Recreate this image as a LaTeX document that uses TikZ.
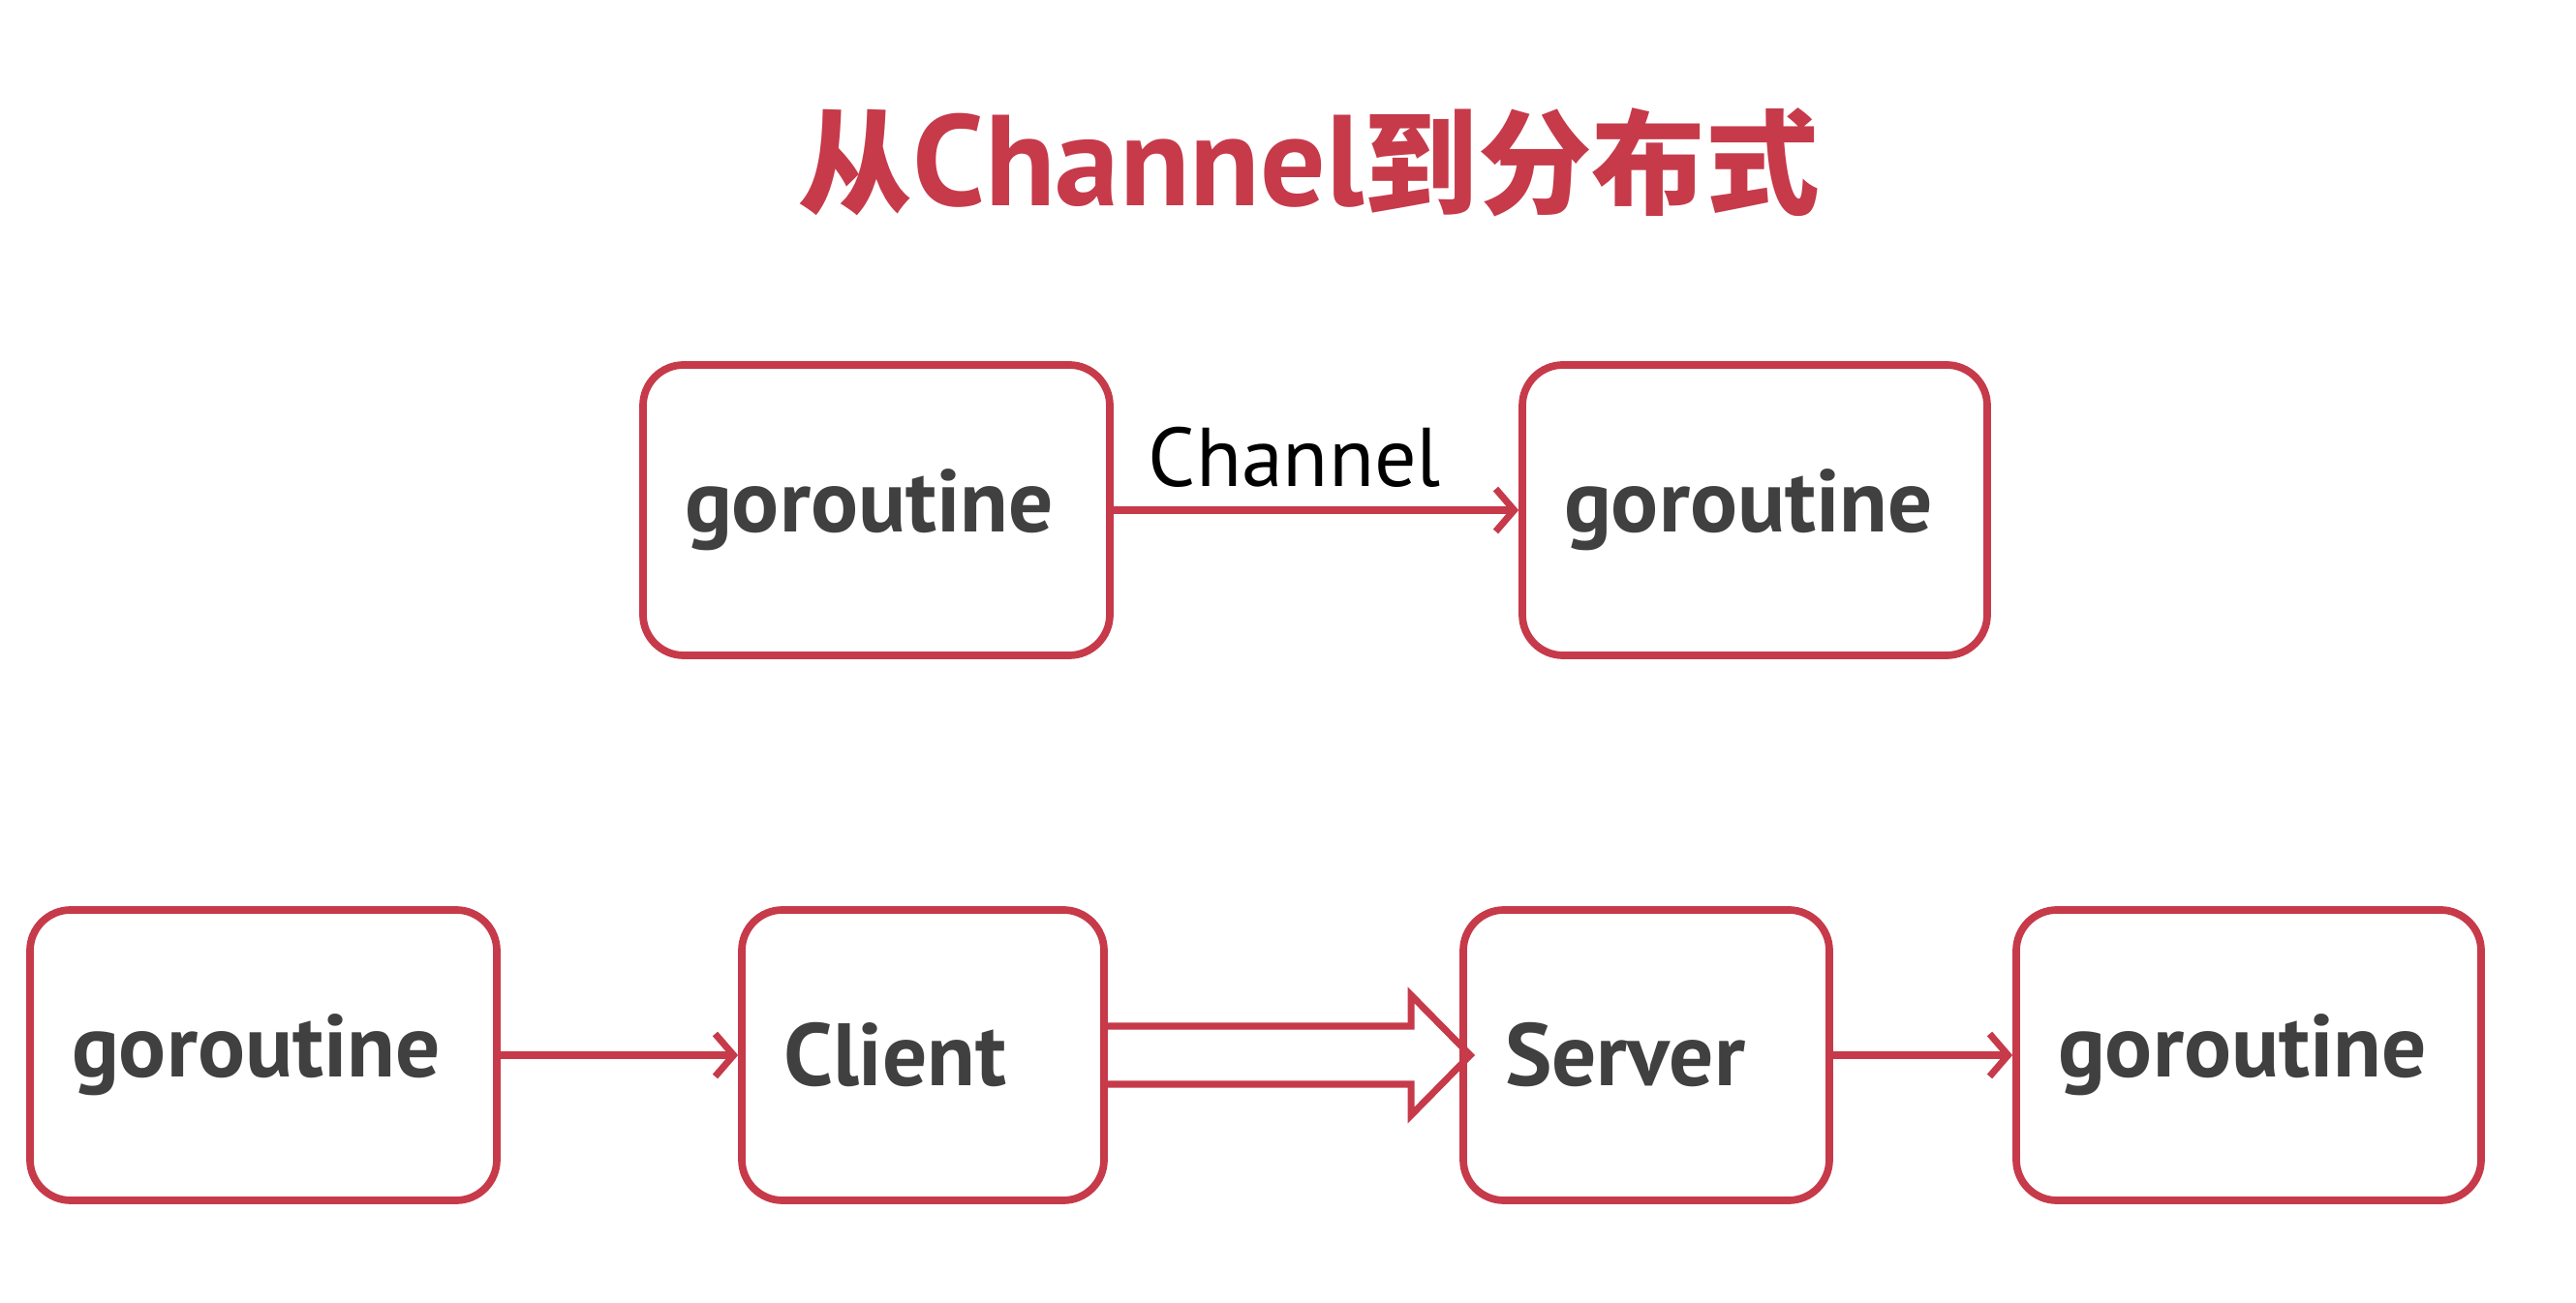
\documentclass[tikz,border=0pt]{standalone}
\usepackage{fontspec}
\setmainfont{PT Sans}
\newfontfamily\cjk[Scale=0.88]{Noto Sans CJK SC}
\usetikzlibrary{arrows.meta,positioning,calc}
\definecolor{gored}{RGB}{198,58,74}
\definecolor{gotext}{RGB}{64,64,64}
\tikzset{
    %Define standard arrow tip
    >={Straight Barb[length=0.19cm,width=0.44cm]},
    %Define style for boxes
    gbox/.style={
           rectangle,
           rounded corners=0.42cm,
           draw=gored, line width=2.2pt,
           inner xsep=0.43cm,
           align=left,
           minimum height=3.0cm,
           text=gotext,
           font=\fontsize{26}{30}\selectfont\bfseries},
    % Define arrow style
    arr/.style={
           ->,
           draw=gored,
           line width=2pt},
    fatarr/.style={
           draw=gored,
           line width=2pt,
           line join=miter}
}
\begin{document}
\begin{tikzpicture}
    \useasboundingbox (0,0) rectangle (26.6,-13.46);
    % TITLE
    \node[text=gored, font=\fontsize{38}{46}\selectfont\bfseries] at (13.52,-1.68) (title) {{\cjk 从}Channel{\cjk 到分布式}};

    % CHANNEL
    \node[gbox, text width=3.96cm] at (9.05,-5.27) (gA) {goroutine};
    \node[gbox, text width=3.94cm] at (18.12,-5.27) (gB) {goroutine};
    \draw[arr] (gA.east) -- node[above=0.08cm, xshift=-0.22cm, text=black, font=\fontsize{24.5}{30}\selectfont] (chan) {Channel} (gB.west);

    % DISTRIBUTED
    \node[gbox, text width=3.96cm] at (2.72,-10.9) (gC) {goroutine};
    \node[gbox, text width=2.88cm] at (9.53,-10.9) (client) {Client};
    \node[gbox, text width=2.92cm] at (17.0,-10.9) (server) {Server};
    \node[gbox, text width=3.94cm] at (23.22,-10.9) (gD) {goroutine};
    \draw[arr] (gC) -- (client);
    \draw[fatarr] ($(client.east)+(0,0.3)$) -- ($(server.west)+(-0.5,0.3)$)
        -- ($(server.west)+(-0.5,0.62)$) -- ($(server.west)+(0.11,0)$)
        -- ($(server.west)+(-0.5,-0.62)$) -- ($(server.west)+(-0.5,-0.3)$)
        -- ($(client.east)+(0,-0.3)$);
    \draw[arr] (server) -- (gD);
\end{tikzpicture}
\end{document}
